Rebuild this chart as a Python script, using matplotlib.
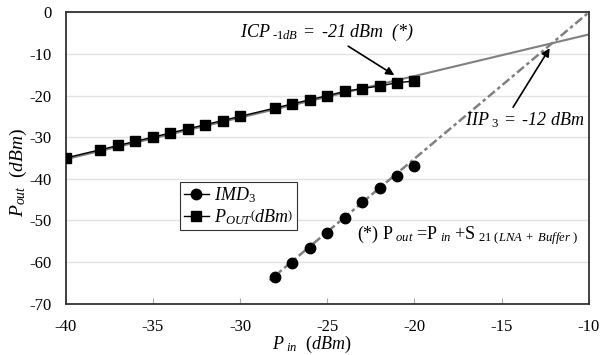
import numpy as np
import matplotlib
matplotlib.use("Agg")
import matplotlib.pyplot as plt

pin_pout = [-40, -38, -37, -36, -35, -34, -33, -32, -31, -30,
            -28, -27, -26, -25, -24, -23, -22, -21, -20]
pout = [-35, -33, -32, -31, -30, -29, -28, -27, -26, -25,
        -23, -22, -21, -20, -19, -18.3, -17.7, -16.9, -16.5]

pin_imd = [-28, -27, -26, -25, -24, -23, -22, -21, -20]
imd3 = [-63.7, -60.2, -56.7, -53.0, -49.4, -45.5, -42.3, -39.3, -36.9]

# linear extrapolations (end points)
pout_fit_x = [-40, -10]
pout_fit_y = [-35.3, -5.3]
imd_fit_x = [-28.3, -10]
imd_fit_y = [-64.4, 0]

plt.rcParams["font.family"] = "Liberation Serif"
plt.rcParams["axes.unicode_minus"] = False
plt.rcParams["mathtext.fontset"] = "custom"
plt.rcParams["mathtext.rm"] = "Liberation Serif"
plt.rcParams["mathtext.it"] = "Liberation Serif:italic"
plt.rcParams["mathtext.bf"] = "Liberation Serif:bold"

fig = plt.figure(figsize=(6.02, 3.55), dpi=100)
ax = fig.add_axes([0.109, 0.145, 0.869, 0.820])

# fitted lines
ax.plot(pout_fit_x, pout_fit_y, color="#808080", lw=1.5, zorder=2)
ax.plot(imd_fit_x, imd_fit_y, color="#808080", lw=1.8,
        dashes=(3.6, 1.3, 1.4, 1.3), zorder=2)

# data
ax.plot(pin_imd, imd3, color="black", lw=0, marker="o", ms=7.5,
        label=r"$IMD_3$", zorder=3)
ax.plot(pin_pout, pout, color="black", lw=1, marker="s", ms=6.5,
        label=r"$P_{OUT}\left(dBm\right)$", zorder=3)

ax.set_xlim(-40, -10)
ax.set_ylim(-70, 0)
ax.set_xticks(np.arange(-40, -9, 5))
ax.set_yticks(np.arange(-70, 1, 10))
ax.yaxis.grid(True, color="#e3e3e3", lw=1)
ax.set_axisbelow(True)
ax.tick_params(axis="x", direction="in", length=4, color="#aaaaaa",
               labelsize=12, pad=11)
ax.tick_params(axis="y", length=0, labelsize=12, pad=10)
for s in ax.spines.values():
    s.set_color("#333333")
    s.set_linewidth(1.3)

ax.set_xlabel(r"$P_{\ in}\ \ (dBm)$", fontsize=13)
ax.xaxis.label.set_va("center")
ax.xaxis.set_label_coords(0.471, -0.142)
ax.set_ylabel(r"$P_{out}\ \ (dBm)$", fontsize=14)
ax.yaxis.label.set_va("center")
ax.yaxis.set_label_coords(-0.091, 0.45)

leg = ax.legend(loc="upper left", bbox_to_anchor=(0.219, 0.418),
                fontsize=13, frameon=True, fancybox=False, framealpha=1,
                borderpad=0.2, handlelength=1.4, handletextpad=0.3,
                labelspacing=0.1, borderaxespad=0)
leg.get_frame().set_edgecolor("#333333")
leg.get_frame().set_linewidth(0.8)
for h in leg.legend_handles:
    h.set_linewidth(1)

icp_label = "$ICP_{\\ \u2010 1dB}\\ =\\ $-21 dBm  (*)"
ax.annotate(icp_label, xy=(-21.15, -15.1),
            xytext=(-30.0, -4.9), fontsize=13, style="italic",
            va="center", ha="left",
            arrowprops=dict(arrowstyle="-|>", color="black", lw=1.2,
                            shrinkA=0, shrinkB=0, mutation_scale=12))
ax.annotate("", xy=(-12.24, -8.6), xytext=(-14.34, -22.8),
            arrowprops=dict(arrowstyle="-|>", color="black", lw=1.2,
                            shrinkA=0, shrinkB=0, mutation_scale=12))
ax.text(-17.1, -25.9, r"$IIP_{\ 3}\ =\ $-12 dBm", fontsize=13,
        style="italic", va="center", ha="left")
ax.text(-23.3, -53.6, r"(*) P$_{\ out}$ =P$_{\ in}$ +S$_{\ 21\ (LNA\ +\ Buffer\ )}$",
        fontsize=13, va="center", ha="left")

fig.savefig("out.png", dpi=100)
